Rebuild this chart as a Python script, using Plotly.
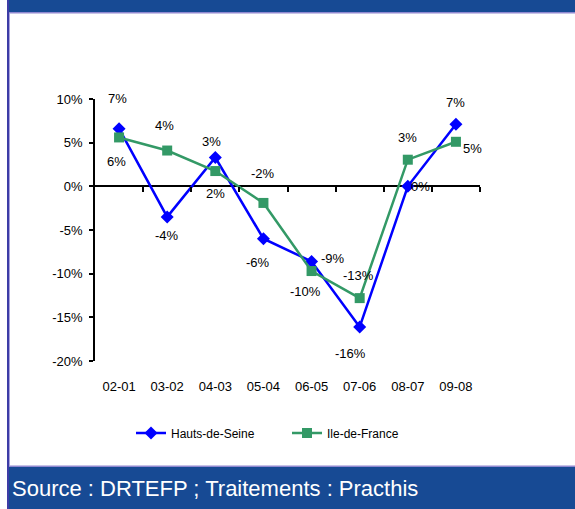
import plotly.graph_objects as go

categories = ["02-01", "03-02", "04-03", "05-04", "06-05", "07-06", "08-07", "09-08"]
hauts_de_seine = [6.6, -3.5, 3.3, -6.0, -8.6, -16.1, 0.0, 7.1]
ile_de_france = [5.6, 4.1, 1.75, -1.9, -9.7, -12.8, 3.05, 5.1]
hds_labels = ["7%", "-4%", "3%", "-6%", "-9%", "-16%", "0%", "7%"]
idf_labels = ["6%", "4%", "2%", "-2%", "-10%", "-13%", "3%", "5%"]
y_ticks = [10, 5, 0, -5, -10, -15, -20]
y_ticktext = ["10%", "5%", "0%", "-5%", "-10%", "-15%", "-20%"]
source_text = "Source : DRTEFP ; Traitements : Practhis"

# label offsets in pixels (dx, dy up)
hds_off = [(-2, 30), (0, -19), (-4, 16), (-5, -24), (21, 3), (-9, -27), (13, 0), (0, 22)]
idf_off = [(-3, -24), (-3, 25), (0, -22), (0, 29), (-6, -20), (-1, 23), (0, 22), (17, -7)]

W, H = 575, 509
L, R, T, B = 95, 480, 99, 361
BLUE_BAND = "#174A94"
FONT = "Liberation Sans, Arial, sans-serif"


def px(xp):
    return (xp - L) / (R - L)


def py(yp):
    return (B - yp) / (B - T)


xs = list(range(len(categories)))

fig = go.Figure()
fig.add_trace(go.Scatter(
    x=xs, y=hauts_de_seine, mode="lines+markers", name="Hauts-de-Seine",
    line=dict(color="#0000FF", width=2.5),
    marker=dict(symbol="diamond", size=10, color="#0000FF"),
))
fig.add_trace(go.Scatter(
    x=xs, y=ile_de_france, mode="lines+markers", name="Ile-de-France",
    line=dict(color="#339966", width=2.5),
    marker=dict(symbol="square", size=10, color="#339966"),
))
# invisible trace to carry the zero-line tick axis
fig.add_trace(go.Scatter(x=[xs[0]], y=[0], xaxis="x2", mode="markers",
                         marker=dict(opacity=0), showlegend=False, hoverinfo="skip"))

annotations = []
for i, (lab, (dx, dy)) in enumerate(zip(hds_labels, hds_off)):
    annotations.append(dict(x=xs[i], y=hauts_de_seine[i], text=lab, showarrow=False,
                            xshift=dx, yshift=dy, font=dict(family=FONT, size=13, color="black")))
for i, (lab, (dx, dy)) in enumerate(zip(idf_labels, idf_off)):
    annotations.append(dict(x=xs[i], y=ile_de_france[i], text=lab, showarrow=False,
                            xshift=dx, yshift=dy, font=dict(family=FONT, size=13, color="black")))
annotations.append(dict(xref="paper", yref="paper", x=px(10), y=py(488), xanchor="left",
                        yanchor="middle", text=source_text, showarrow=False,
                        font=dict(family=FONT, size=22, color="white")))

shapes = [
    # top band
    dict(type="rect", xref="paper", yref="paper", x0=px(7), x1=px(W + 5), y0=py(-5), y1=py(12),
         fillcolor=BLUE_BAND, line=dict(width=0), layer="below"),
    dict(type="rect", xref="paper", yref="paper", x0=px(7), x1=px(W + 5), y0=py(12), y1=py(13.5),
         fillcolor="#8f88d0", line=dict(width=0), layer="below"),
    # bottom band
    dict(type="rect", xref="paper", yref="paper", x0=px(7), x1=px(W + 5), y0=py(467), y1=py(H + 5),
         fillcolor=BLUE_BAND, line=dict(width=0), layer="below"),
    dict(type="rect", xref="paper", yref="paper", x0=px(7), x1=px(W + 5), y0=py(465.5), y1=py(467),
         fillcolor="#8f88d0", line=dict(width=0), layer="below"),
    # left border
    dict(type="rect", xref="paper", yref="paper", x0=px(7), x1=px(9), y0=py(-5), y1=py(H + 5),
         fillcolor="#3c3ca6", line=dict(width=0), layer="below"),
    dict(type="rect", xref="paper", yref="paper", x0=px(9), x1=px(10), y0=py(13), y1=py(466),
         fillcolor="#a9a3dc", line=dict(width=0), layer="below"),
]

fig.update_layout(
    width=W, height=H,
    margin=dict(l=L, r=W - R, t=T, b=H - B, autoexpand=False),
    paper_bgcolor="white", plot_bgcolor="white",
    font=dict(family=FONT, size=12, color="black"),
    showlegend=True,
    legend=dict(orientation="h", x=px(131), xanchor="left", y=py(433), yanchor="middle",
                font=dict(family=FONT, size=12, color="black"), bgcolor="rgba(0,0,0,0)",
                itemwidth=30, entrywidth=111, tracegroupgap=0),
    xaxis=dict(range=[-0.5, len(categories) - 0.5], tickmode="array", tickvals=xs,
               ticktext=categories, showgrid=False, zeroline=False, showline=False,
               ticks="", ticklabelstandoff=16, tickfont=dict(family=FONT, size=13)),
    xaxis2=dict(range=[-0.5, len(categories) - 0.5], overlaying="x", anchor="free",
                position=(0 - y_ticks[-1]) / (y_ticks[0] - y_ticks[-1]),
                tickmode="array", tickvals=[i + 0.5 for i in xs], ticks="outside",
                ticklen=5, tickwidth=1.5, tickcolor="black", showticklabels=False,
                showgrid=False, zeroline=False, showline=False),
    yaxis=dict(range=[y_ticks[-1], y_ticks[0]], tickmode="array", tickvals=y_ticks,
               ticktext=y_ticktext, showgrid=False, zeroline=True, zerolinecolor="black",
               zerolinewidth=1.5, showline=True, linecolor="black", linewidth=1.5,
               ticks="outside", ticklen=4, tickwidth=1.5, tickcolor="black",
               ticklabelstandoff=4, tickfont=dict(family=FONT, size=13)),
    annotations=annotations,
    shapes=shapes,
)

fig.write_html(
    "out.html",
    config={"displayModeBar": False},
    post_script="document.body.style.margin='0';document.body.style.overflow='hidden';",
)
